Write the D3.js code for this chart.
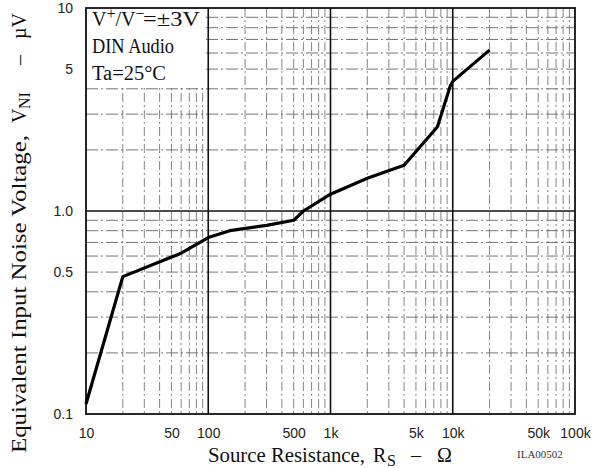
<!DOCTYPE html>
<meta charset="utf-8">
<style>
body { margin: 0; background: #fff; }
.tick text { font-family: "Liberation Sans", Arial, sans-serif; font-size: 14px; fill: #222; }
.title { font-family: "Liberation Serif", "Times New Roman", serif; font-size: 20px; fill: #111; }
.note { font-family: "Liberation Serif", "Times New Roman", serif; font-size: 20px; fill: #111; }
</style>
<body>
<svg width="606" height="468"></svg>
<script src="https://cdn.jsdelivr.net/npm/d3@7"></script>
<script>

// curve (ohms, microvolts)
var resistance = [10, 20, 60, 100, 150, 300, 500, 600, 1000, 2000, 4000, 7500, 9500, 10000, 20000];
var noise = [0.112, 0.475, 0.62, 0.74, 0.8, 0.85, 0.9, 1.0, 1.21, 1.45, 1.68, 2.6, 4.1, 4.35, 6.2];

var xTicks = [10, 50, 100, 500, 1000, 5000, 10000, 50000, 100000];
var xTickLabels = ["10", "50", "100", "500", "1k", "5k", "10k", "50k", "100k"];
var yTicks = [0.1, 0.5, 1, 5, 10];
var yTickLabels = ["0.1", "0.5", "1.0", "5", "10"];

var svg = d3.select("svg");
var plotL = 86, plotR = 575, plotT = 8, plotB = 414;

var x = d3.scaleLog().domain([10, 100000]).range([plotL, plotR]);
var y = d3.scaleLog().domain([0.1, 10]).range([plotB, plotT]);

// minor grid values
var xMinor = [], yMinor = [];
[10, 100, 1000, 10000].forEach(function(d) {
  for (var k = 2; k <= 9; k++) xMinor.push(d * k);
});
[0.1, 1].forEach(function(d) {
  for (var k = 2; k <= 9; k++) yMinor.push(+(d * k).toFixed(2));
});

var grid = svg.append("g");
grid.selectAll(".vminor").data(xMinor).enter().append("line")
    .attr("x1", function(d) { return x(d); }).attr("x2", function(d) { return x(d); })
    .attr("y1", plotT).attr("y2", plotB)
    .attr("stroke", "#777").attr("stroke-width", 0.9)
    .attr("stroke-dasharray", "9,3,2,3");
grid.selectAll(".hminor").data(yMinor).enter().append("line")
    .attr("y1", function(d) { return y(d); }).attr("y2", function(d) { return y(d); })
    .attr("x1", plotL).attr("x2", plotR)
    .attr("stroke", "#666").attr("stroke-width", 0.9)
    .attr("stroke-dasharray", "12,3,2,3");

// note box hides grid behind the conditions text
svg.append("rect")
    .attr("x", plotL + 1).attr("y", plotT + 1)
    .attr("width", 119).attr("height", 79)
    .attr("fill", "#fff");

svg.append("g").selectAll("line").data([100, 1000, 10000]).enter().append("line")
    .attr("x1", function(d) { return x(d); }).attr("x2", function(d) { return x(d); })
    .attr("y1", plotT).attr("y2", plotB)
    .attr("stroke", "#111").attr("stroke-width", 1.6);
svg.append("line")
    .attr("x1", plotL).attr("x2", plotR)
    .attr("y1", y(1)).attr("y2", y(1))
    .attr("stroke", "#111").attr("stroke-width", 1.6);

svg.append("rect")
    .attr("x", plotL).attr("y", plotT)
    .attr("width", plotR - plotL).attr("height", plotB - plotT)
    .attr("fill", "none").attr("stroke", "#111").attr("stroke-width", 1.8);

var xAxis = svg.append("g")
    .attr("transform", "translate(0," + plotB + ")")
    .call(d3.axisBottom(x).tickValues(xTicks).tickSize(0).tickPadding(14)
      .tickFormat(function(d, i) { return xTickLabels[i]; }));
xAxis.select(".domain").remove();

var yAxis = svg.append("g")
    .attr("transform", "translate(" + plotL + ",0)")
    .call(d3.axisLeft(y).tickValues(yTicks).tickSize(0).tickPadding(13)
      .tickFormat(function(d, i) { return yTickLabels[i]; }));
yAxis.select(".domain").remove();

var line = d3.line()
    .x(function(d) { return x(d[0]); })
    .y(function(d) { return y(d[1]); });

svg.append("path")
    .datum(d3.zip(resistance, noise))
    .attr("d", line)
    .attr("fill", "none")
    .attr("stroke", "#000")
    .attr("stroke-width", 3.2)
    .attr("stroke-linejoin", "round");

// conditions
var n1 = svg.append("text").attr("class", "note").attr("y", 26);
n1.append("tspan").attr("x", 92).text("V");
n1.append("tspan").attr("dy", -7).attr("font-size", 16).text("+");
n1.append("tspan").attr("dy", 7).text("/V");
n1.append("tspan").attr("dy", -7).attr("font-size", 16).text("\u2212");
n1.append("tspan").attr("dy", 7).attr("x", 143).attr("textLength", 57)
    .attr("lengthAdjust", "spacingAndGlyphs").text("=\u00B13V");
svg.append("text").attr("class", "note").attr("x", 92).attr("y", 53)
    .attr("textLength", 82).attr("lengthAdjust", "spacingAndGlyphs").text("DIN Audio");
svg.append("text").attr("class", "note").attr("x", 92).attr("y", 80)
    .attr("textLength", 74).attr("lengthAdjust", "spacingAndGlyphs").text("Ta=25\u00B0C");

// x title
var xt = svg.append("text").attr("class", "title").attr("y", 462);
xt.append("tspan").attr("x", 208).attr("textLength", 157)
    .attr("lengthAdjust", "spacingAndGlyphs").text("Source Resistance,");
xt.append("tspan").attr("x", 373).text("R");
xt.append("tspan").attr("x", 387).attr("dy", 4).attr("font-size", 16).text("S");
xt.append("tspan").attr("x", 411).attr("dy", -4).text("\u2013");
xt.append("tspan").attr("x", 437).text("\u03A9");

svg.append("text")
    .attr("x", 517).attr("y", 458)
    .attr("font-family", "Liberation Serif, serif").attr("font-size", 11)
    .attr("fill", "#333")
    .text("ILA00502");

// y title
var yt = svg.append("text").attr("class", "title")
    .attr("transform", "translate(26,453) rotate(-90)");
yt.append("tspan").attr("x", 0).attr("textLength", 318)
    .attr("lengthAdjust", "spacingAndGlyphs").text("Equivalent Input Noise Voltage,");
yt.append("tspan").attr("x", 330).text("V");
yt.append("tspan").attr("x", 344).attr("dy", 4).attr("font-size", 16).text("NI");
yt.append("tspan").attr("x", 388).attr("dy", -4).text("\u2013");
yt.append("tspan").attr("x", 414).text("\u00B5V");

</script>
</body>
